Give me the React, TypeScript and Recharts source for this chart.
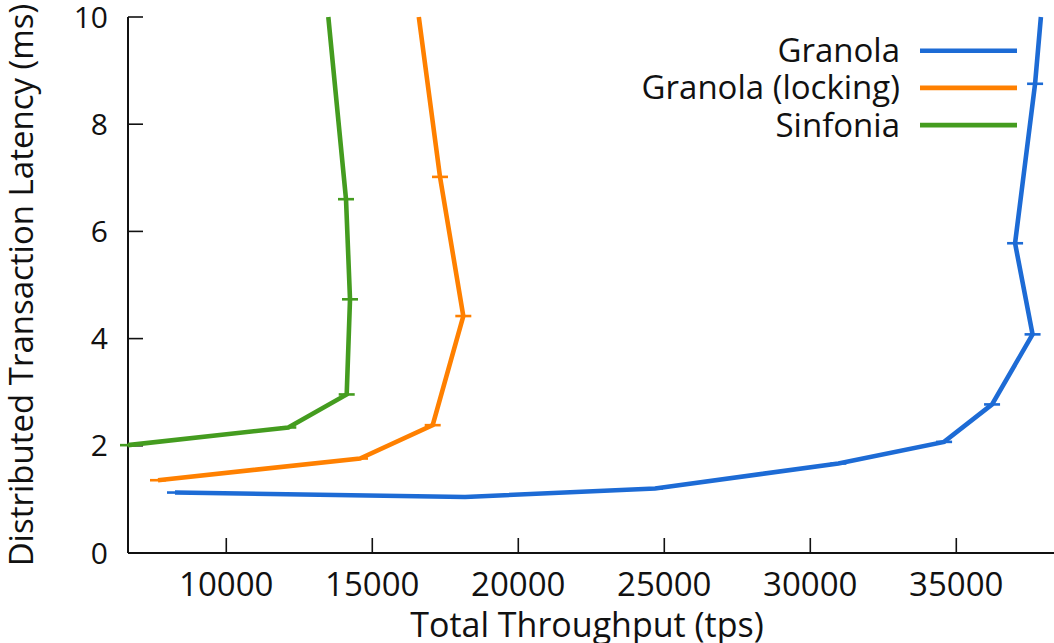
import React from "react";
import { ComposedChart, Scatter, XAxis, YAxis } from "recharts";

// Throughput (tps) / latency (ms) measurements, in load order
const granolaThroughput = [8243, 18175, 24683, 30961, 34582, 36225, 37612, 37013, 37698, 37897];
const granolaLatency = [1.128, 1.046, 1.203, 1.67, 2.073, 2.772, 4.079, 5.779, 8.754, 10.0];

const lockingThroughput = [7661, 14579, 17069, 18117, 17319, 16593];
const lockingLatency = [1.358, 1.763, 2.385, 4.421, 7.017, 10.0];

const sinfoniaThroughput = [6634, 12124, 14124, 14237, 14100, 13494];
const sinfoniaLatency = [2.012, 2.342, 2.958, 4.733, 6.601, 10.0];

const seriesNames = ["Granola", "Granola (locking)", "Sinfonia"];
const seriesColors = ["#1D6BD5", "#FF8000", "#449C1F"];

const xTicks = [10000, 15000, 20000, 25000, 30000, 35000];
const yTicks = [0, 2, 4, 6, 8, 10];
const X_MIN = 6634;
const X_MAX = 38346;
const Y_MAX = 10;

const toPoints = (xs: number[], ys: number[]) => xs.map((x, i) => ({ x, y: ys[i] }));

const series = [
  toPoints(granolaThroughput, granolaLatency),
  toPoints(lockingThroughput, lockingLatency),
  toPoints(sinfoniaThroughput, sinfoniaLatency),
];

const FONT = "'Open Sans', sans-serif";
const W = 1054;
const H = 643;

// small horizontal error-bar tick at each measured point
const makeTick = (color: string) => (props: any) => {
  const { cx, cy, payload } = props;
  if (payload == null || payload.y >= Y_MAX) return <g />;
  return <line x1={cx - 8} x2={cx + 8} y1={cy} y2={cy} stroke={color} strokeWidth={2.6} />;
};

const YTitle = (props: any) => {
  const vb = props.viewBox || {};
  const cx = 33;
  const cy = (vb.y ?? 17) + (vb.height ?? 536) / 2;
  return (
    <text
      x={cx}
      y={cy}
      transform={`rotate(-90, ${cx}, ${cy})`}
      textAnchor="middle"
      fontFamily={FONT}
      fontSize={33}
      fill="#111"
    >
      Distributed Transaction Latency (ms)
    </text>
  );
};

const XTitle = (props: any) => {
  const vb = props.viewBox || {};
  const cx = (vb.x ?? 128) + (vb.width ?? 926) / 2 - 4;
  return (
    <text x={cx} y={637} textAnchor="middle" fontFamily={FONT} fontSize={34} fill="#111">
      Total Throughput (tps)
    </text>
  );
};

export default function App() {
  return (
    <div style={{ position: "absolute", left: 0, top: 0, width: W, height: H, background: "#fff" }}>
      <ComposedChart width={W} height={H} margin={{ top: 17, right: 0, bottom: 0, left: 0 }}>
        <XAxis
          type="number"
          dataKey="x"
          domain={[X_MIN, X_MAX]}
          ticks={xTicks}
          height={90}
          tickSize={-15}
          tickMargin={35}
          axisLine={{ stroke: "#111", strokeWidth: 2 }}
          tickLine={{ stroke: "#111", strokeWidth: 1.6 }}
          tick={{ fontFamily: FONT, fontSize: 33, fill: "#111" }}
          label={<XTitle />}
        />
        <YAxis
          type="number"
          dataKey="y"
          domain={[0, Y_MAX]}
          ticks={yTicks}
          width={128}
          tickSize={-15}
          tickMargin={35}
          axisLine={{ stroke: "#111", strokeWidth: 2 }}
          tickLine={{ stroke: "#111", strokeWidth: 1.6 }}
          tick={{ fontFamily: FONT, fontSize: 30, fill: "#111" }}
          label={<YTitle />}
        />
        {series.map((data, i) => (
          <Scatter
            key={seriesNames[i]}
            name={seriesNames[i]}
            data={data}
            fill={seriesColors[i]}
            line={{ stroke: seriesColors[i], strokeWidth: 4.6, strokeLinejoin: "miter" }}
            shape={makeTick(seriesColors[i])}
            isAnimationActive={false}
          />
        ))}
      </ComposedChart>
      <svg
        width={W}
        height={H}
        style={{ position: "absolute", left: 0, top: 0, pointerEvents: "none" }}
      >
        {seriesNames.map((name, i) => {
          const lineY = 50.7 + i * 37.2;
          return (
            <g key={name}>
              <text
                x={900}
                y={lineY + 11.5}
                textAnchor="end"
                fontFamily={FONT}
                fontSize={33}
                fill="#111"
              >
                {name}
              </text>
              <line x1={920} x2={1017} y1={lineY} y2={lineY} stroke={seriesColors[i]} strokeWidth={4.6} />
            </g>
          );
        })}
      </svg>
    </div>
  );
}
